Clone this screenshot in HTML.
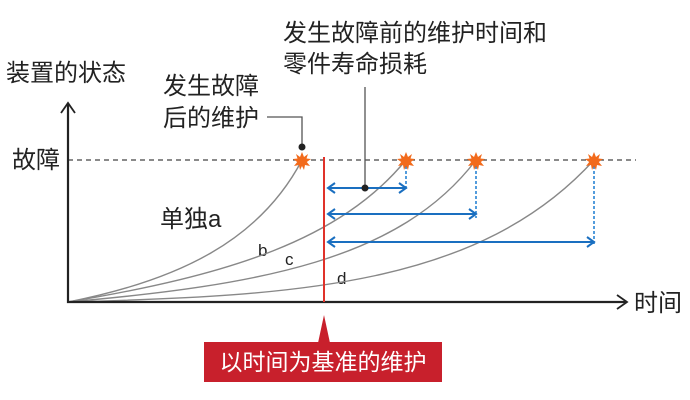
<!DOCTYPE html>
<html><head><meta charset="utf-8"><style>
html,body{margin:0;padding:0;background:#fff;width:690px;height:400px;overflow:hidden}
text{font-family:"Liberation Sans","Noto Sans CJK SC",sans-serif}
</style></head><body>
<svg width="690" height="400" viewBox="0 0 690 400" xmlns="http://www.w3.org/2000/svg">
<g font-size="24" fill="#222">
<text x="283" y="41">发生故障前的维护时间和</text>
<text x="283" y="72">零件寿命损耗</text>
<text x="6" y="81">装置的状态</text>
<text x="163" y="94">发生故障</text>
<text x="163" y="126">后的维护</text>
<text x="12" y="168">故障</text>
<text x="634" y="311">时间</text>
<text x="160" y="227">单独a</text>
</g>
<g font-size="17" fill="#222">
<text x="258" y="256">b</text>
<text x="285" y="265">c</text>
<text x="337" y="284">d</text>
</g>
<line x1="68" y1="160" x2="636" y2="160" stroke="#444" stroke-width="1.3" stroke-dasharray="5,4"/>
<g fill="none" stroke="#888" stroke-width="1.4">
<path d="M68,302 C180,280 260,240 302,160"/>
<path d="M68,302 C230,275 340,240 406,160"/>
<path d="M68,302 C260,285 400,260 476,160"/>
<path d="M68,302 C300,296 480,285 594,160"/>
</g>
<path d="M68,103 L68,302 L627,302" fill="none" stroke="#222" stroke-width="2.2"/>
<path d="M61,113 L68,103 L75,113" fill="none" stroke="#222" stroke-width="1.8"/>
<path d="M617,295 L627,302 L617,309" fill="none" stroke="#222" stroke-width="1.8"/>
<g stroke="#1a7bd0" stroke-width="1.5" stroke-dasharray="3,2">
<line x1="406" y1="166" x2="406" y2="190"/>
<line x1="476" y1="166" x2="476" y2="218"/>
<line x1="594" y1="166" x2="594" y2="246"/>
</g>
<g stroke="#1a6fc0" stroke-width="2" fill="none">
<line x1="328" y1="188" x2="405" y2="188"/>
<line x1="328" y1="214" x2="475" y2="214"/>
<line x1="328" y1="242" x2="593" y2="242"/>
<path d="M335,183 L328,188 L335,193"/><path d="M399,183 L406,188 L399,193"/>
<path d="M335,209 L328,214 L335,219"/><path d="M469,209 L476,214 L469,219"/>
<path d="M335,237 L328,242 L335,247"/><path d="M587,237 L594,242 L587,247"/>
</g>
<g stroke="#555" stroke-width="1.3" fill="none">
<line x1="365" y1="87" x2="365" y2="188"/>
<path d="M267,117 L302,117 L302,147"/>
</g>
<circle cx="365" cy="188" r="3.5" fill="#222"/>
<circle cx="302" cy="147" r="3.5" fill="#222"/>
<g fill="#f26a1b">
<polygon points="0,-9 2,-4 6,-7 4.5,-2.5 9,-2 4.8,1 8,5 3,4 2,9 0,5 -2,9 -3,4 -8,5 -4.8,1 -9,-2 -4.5,-2.5 -6,-7 -2,-4" transform="translate(302,161)"/>
<polygon points="0,-9 2,-4 6,-7 4.5,-2.5 9,-2 4.8,1 8,5 3,4 2,9 0,5 -2,9 -3,4 -8,5 -4.8,1 -9,-2 -4.5,-2.5 -6,-7 -2,-4" transform="translate(406,161)"/>
<polygon points="0,-9 2,-4 6,-7 4.5,-2.5 9,-2 4.8,1 8,5 3,4 2,9 0,5 -2,9 -3,4 -8,5 -4.8,1 -9,-2 -4.5,-2.5 -6,-7 -2,-4" transform="translate(476,161)"/>
<polygon points="0,-9 2,-4 6,-7 4.5,-2.5 9,-2 4.8,1 8,5 3,4 2,9 0,5 -2,9 -3,4 -8,5 -4.8,1 -9,-2 -4.5,-2.5 -6,-7 -2,-4" transform="translate(594,161)"/>
</g>
<line x1="324" y1="157" x2="324" y2="302" stroke="#e0322a" stroke-width="2"/>
<polygon points="324,315 318,343 330,343" fill="#c8202c"/>
<rect x="204" y="342" width="238" height="40" fill="#c8202c"/>
<text x="323" y="370" font-size="23" fill="#fff" text-anchor="middle">以时间为基准的维护</text>
</svg>
</body></html>
